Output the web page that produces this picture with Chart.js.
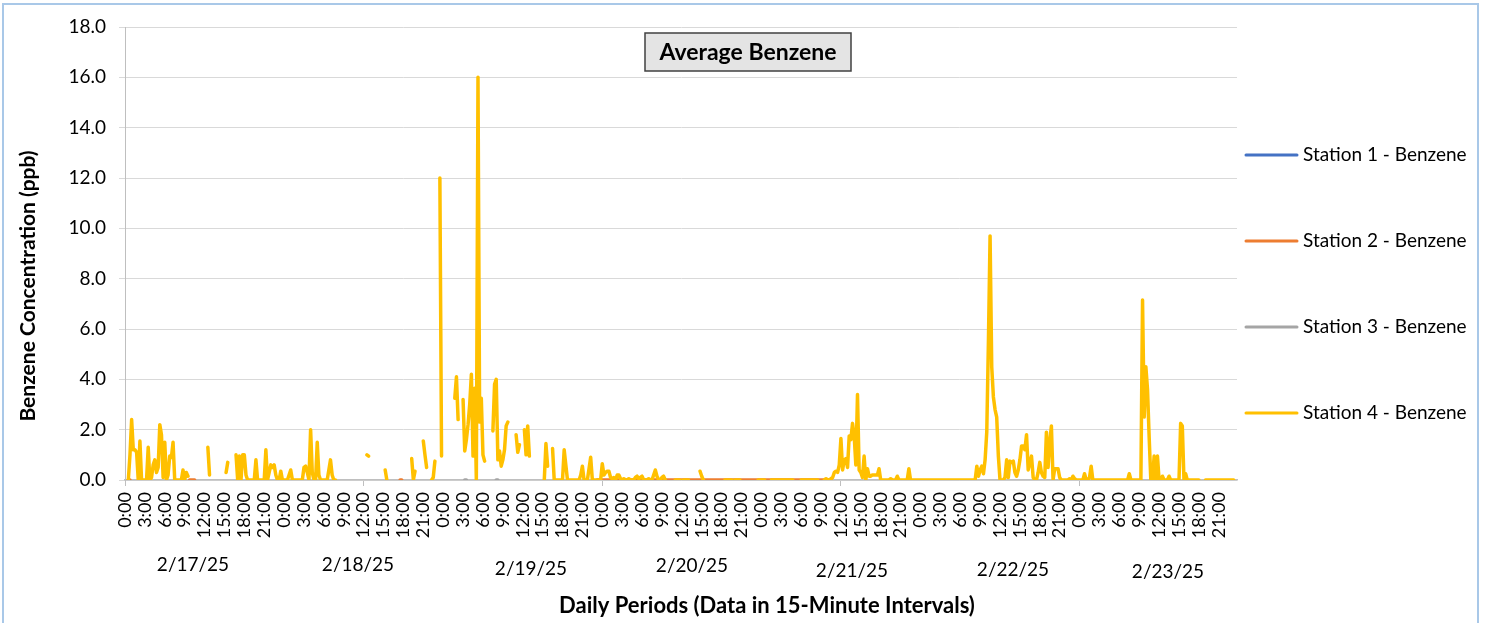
<!DOCTYPE html>
<html>
<head>
<meta charset="utf-8">
<title>Average Benzene</title>
<script src="https://cdn.jsdelivr.net/npm/chart.js@4.4.1/dist/chart.umd.min.js"></script>
<style>
  html, body { margin: 0; padding: 0; background: #fff; }
  #wrap { position: relative; width: 1486px; height: 623px; overflow: hidden; }
  #frame { position: absolute; left: 2px; top: 3px; width: 1477px; height: 700px; border: 2px solid #a9c8e8; box-sizing: border-box; pointer-events: none; }
  canvas { position: absolute; left: 0; top: 0; }
</style>
</head>
<body>
<div id="wrap">
  <canvas id="myChart" width="1486" height="623"></canvas>
  <div id="frame"></div>
</div>
<script>
// days on the axis, and which times get a label (every 3 hours)
const days = ['2/17/25', '2/18/25', '2/19/25', '2/20/25', '2/21/25', '2/22/25', '2/23/25'];
const tickTimes = ['0:00', '3:00', '6:00', '9:00', '12:00', '15:00', '18:00', '21:00'];

const seriesNames = ['Station 1 - Benzene', 'Station 2 - Benzene', 'Station 3 - Benzene', 'Station 4 - Benzene'];

// Station 4 readings, 15 min each, one row = 3 hours (null = no reading)
const st4_0217 = [
  null, null, 0, 1.0, 2.4, 1.2, 1.2, 1.1, 0, 1.55, 0, 0,
  0, 0, 1.3, 0, 0.1, 0.6, 0.8, 0.3, 0.5, 2.2, 1.8, 0.1,
  1.5, 0, 0.2, 0.95, 0.9, 1.5, 0, 0, 0, 0, 0, 0.4,
  0, 0.3, 0.15, null, null, null, null, null, null, null, null, null,
  null, null, 1.3, 0.2, null, null, null, null, null, null, null, null,
  null, 0.3, 0.7, null, null, null, null, 1.0, 0, 0.95, 0, 1.0,
  1.0, 0.2, 0, 0, 0, 0, 0, 0.8, 0, 0, 0, 0,
  0, 1.2, 0, 0.3, 0.6, 0.5, 0.6, 0.2, 0, 0, 0.35, 0
];
const st4_0218 = [
  0, 0, 0, 0.2, 0.4, 0, 0, 0, 0, 0, 0, 0,
  0.5, 0.55, 0.3, 0, 2.0, 0.3, 0, 0, 1.5, 0.2, 0, 0,
  0, 0, 0, 0.4, 0.8, 0.2, 0, 0, null, null, null, null,
  null, null, null, null, null, null, null, null, null, null, null, null,
  null, null, 1.0, 0.95, null, null, null, null, null, null, null, null,
  null, 0.4, 0, null, null, null, null, null, null, null, null, null,
  null, null, null, null, null, 0.85, 0, 0.35, null, null, null, null,
  1.55, 1.0, 0.5, null, null, 0, 0.1, 0.75, null, null, 12.0, 0.95
];
const st4_0219 = [
  null, null, null, null, null, null, null, 3.25, 4.1, 2.4, null, null,
  3.2, 1.15, 1.6, 2.2, 3.0, 4.2, 0.95, 3.65, 0, 16.0, 2.3, 3.25,
  1.0, 0.75, null, null, null, null, 1.95, 3.8, 4.0, 0.8, 1.15, 0.55,
  0.8, 1.2, 2.15, 2.3, null, null, null, null, 1.8, 1.1, 1.4, null,
  null, 2.0, 1.0, 2.15, 0.95, null, null, null, null, null, null, null,
  null, 0, 1.45, 0.55, null, null, 1.25, 0, 0, 0, 0, 0,
  0, 1.2, 0.6, 0, 0, 0, 0, 0, 0, 0, 0, 0.2,
  0.55, 0, 0, 0, 0.45, 0.9, 0, 0, 0, 0, 0, 0
];
const st4_0220 = [
  0.65, 0.2, 0.3, 0.35, 0.35, 0.1, 0.05, 0.1, 0, 0.2, 0.2, 0.05,
  0, 0.05, 0, 0, 0.05, 0, 0, 0, 0.1, 0.15, 0.05, 0.1,
  0.15, 0, 0, 0, 0.05, 0, 0, 0.2, 0.4, 0.15, 0, 0,
  0.1, 0.15, 0, null, null, null, null, null, 0, 0, 0, 0,
  null, 0, 0, 0, 0, null, null, null, null, null, null, 0.35,
  0.15, 0, null, null, null, null, null, null, null, null, null, null,
  null, null, 0, 0, 0, 0, 0, null, 0, 0, 0, 0,
  null, null, null, null, null, null, null, null, null, null, 0, 0
];
const st4_0221 = [
  0, 0, 0, null, null, null, 0, 0, 0, 0, 0, 0,
  0, 0, 0, 0, 0, 0, 0, 0, null, null, null, null,
  0, 0, 0, 0, 0, 0, 0, 0, 0, 0, 0, null,
  null, null, 0, 0.05, 0, 0, 0.05, 0.1, 0.3, 0.35, 0.3, 0.6,
  1.65, 0.4, 0.8, 0.85, 0.5, 1.75, 1.6, 2.25, 1.75, 0.6, 3.4, 0.4,
  0.3, 0.1, 0.95, 0, 0.45, 0.15, 0.15, 0.2, 0.2, 0.2, 0.2, 0.45,
  0, 0, 0, 0, 0, 0, 0.05, 0, 0, 0, 0.15, 0,
  0, 0, 0, 0, 0, 0.45, 0, 0, 0, 0, 0, 0
];
const st4_0222 = [
  0, 0, 0, 0, 0, 0, 0, 0, 0, 0, 0, 0,
  0, 0, 0, 0, 0, 0, 0, 0, 0, 0, 0, 0,
  0, 0, 0, 0, 0, 0, 0, 0, 0, 0, 0.55, 0.15,
  0.4, 0.55, 0.25, 0.8, 1.9, 5.5, 9.7, 4.5, 3.3, 2.8, 2.5, 0.95,
  0, 0, 0, 0.1, 0.8, 0.1, 0.75, 0.7, 0.75, 0.3, 0.15, 0.4,
  0.8, 1.35, 1.35, 1.2, 1.8, 0.4, 0.7, 0.95, 0.1, 0, 0, 0.3,
  0.7, 0.3, 0.15, 0.1, 1.9, 0.5, 1.5, 2.15, 0, 0.45, 0.45, 0.45,
  0.1, 0, 0, 0, 0, 0, 0.05, 0, 0.15, 0.05, 0, 0
];
const st4_0223 = [
  0, 0, 0, 0.25, 0, 0, 0.1, 0.55, 0, 0, 0, 0,
  0, 0, 0, 0, 0, 0, 0, 0, 0, 0, 0, 0,
  0, 0, 0, 0, 0, 0, 0.25, 0, 0, 0, 0, 0,
  0, 0, 7.15, 2.5, 4.5, 3.6, 1.7, 0, 0, 0.95, 0, 0.95,
  0, 0, 0.15, 0, 0, 0, 0.15, 0, 0, 0, 0, 0,
  0, 2.25, 2.15, 0, 0.25, 0, 0, 0, 0, 0, 0, 0,
  0, null, null, null, 0, 0, 0, 0, 0, 0, 0, 0,
  0, 0, 0, 0, 0, 0, 0, 0, 0, 0, null, null
];
const station4 = [].concat(st4_0217, st4_0218, st4_0219, st4_0220, st4_0221, st4_0222, st4_0223);

// stations 1-3 only report a few zero readings, so keep them as points
const station1 = [];
const station2 = [
  { x: '2/17/25 0:30', y: 0 }, { x: '2/17/25 0:45', y: 0 }, { x: '2/17/25 1:00', y: null },
  { x: '2/17/25 9:45', y: 0 }, { x: '2/17/25 10:30', y: 0 }, { x: '2/17/25 10:45', y: null },
  { x: '2/18/25 17:30', y: 0 }, { x: '2/18/25 17:45', y: 0 }, { x: '2/18/25 18:00', y: null },
  { x: '2/19/25 23:15', y: 0 }, { x: '2/21/25 10:30', y: 0 }
];
const station3 = [
  { x: '2/19/25 3:15', y: 0 }, { x: '2/19/25 3:30', y: 0 }, { x: '2/19/25 3:45', y: null },
  { x: '2/19/25 8:00', y: 0 }, { x: '2/19/25 8:15', y: 0 }
];

const colors = ['#4472C4', '#ED7D31', '#A5A5A5', '#FFC000'];

// one category per 15 minutes
const labels = [];
days.forEach(function (day) {
  for (let q = 0; q < 96; q++) {
    const h = Math.floor(q / 4);
    const m = (q % 4) * 15;
    labels.push(day + ' ' + h + ':' + (m < 10 ? '0' + m : m));
  }
});

// where Excel put the date row (x, y)
const dateLabelPos = [[193, 565], [358, 565], [531, 569], [692, 566], [852, 571], [1013, 570], [1168, 572]];

Chart.defaults.font.family = 'Lato, "Open Sans", sans-serif';
Chart.defaults.color = '#000';

// title box, date row, axis titles and legend the way Excel lays them out
const excelExtras = {
  id: 'excelExtras',
  afterDraw(chart) {
    const ctx = chart.ctx;
    ctx.save();
    ctx.textBaseline = 'middle';

    // chart title in a grey box
    ctx.fillStyle = '#e4e4e4';
    ctx.fillRect(645, 33, 206, 38);
    ctx.strokeStyle = '#404040';
    ctx.lineWidth = 1.5;
    ctx.strokeRect(645, 33, 206, 38);
    ctx.fillStyle = '#000';
    ctx.textAlign = 'center';
    ctx.font = 'bold 23px Lato';
    ctx.fillText('Average Benzene', 748, 53);

    // date under each day's times
    ctx.font = '19px Lato';
    days.forEach(function (day, d) {
      ctx.fillText(day, dateLabelPos[d][0], dateLabelPos[d][1]);
    });

    // axis titles
    ctx.font = 'bold 22px Lato';
    ctx.fillText('Daily Periods (Data in 15-Minute Intervals)', 767, 606);
    ctx.save();
    ctx.translate(28, 286);
    ctx.rotate(-Math.PI / 2);
    ctx.font = 'bold 21px Lato';
    ctx.fillText('Benzene Concentration (ppb)', 0, 0);
    ctx.restore();

    // legend
    ctx.textAlign = 'left';
    ctx.font = '19px Lato';
    chart.data.datasets.forEach(function (ds, i) {
      const y = 155 + i * 86;
      ctx.strokeStyle = ds.borderColor;
      ctx.lineWidth = 3;
      ctx.lineCap = 'round';
      ctx.beginPath();
      ctx.moveTo(1246, y);
      ctx.lineTo(1297, y);
      ctx.stroke();
      ctx.fillText(ds.label, 1303, y);
    });
    ctx.restore();
  }
};

const ctx = document.getElementById('myChart').getContext('2d');
new Chart(ctx, {
  type: 'line',
  data: {
    labels: labels,
    datasets: [
      { label: seriesNames[0], data: station1, borderColor: colors[0], backgroundColor: colors[0], order: 4 },
      { label: seriesNames[1], data: station2, borderColor: colors[1], backgroundColor: colors[1], order: 3 },
      { label: seriesNames[2], data: station3, borderColor: colors[2], backgroundColor: colors[2], order: 2 },
      { label: seriesNames[3], data: station4, borderColor: colors[3], backgroundColor: colors[3], order: 1 }
    ]
  },
  options: {
    responsive: false,
    animation: false,
    devicePixelRatio: 1,
    spanGaps: false,
    layout: { padding: { top: 27, right: 249, bottom: 0, left: 0 } },
    elements: {
      point: { radius: 0, hoverRadius: 0 },
      line: { borderWidth: 3.5, tension: 0, borderCapStyle: 'round', borderJoinStyle: 'round' }
    },
    plugins: {
      legend: { display: false },
      title: { display: false },
      tooltip: { enabled: false }
    },
    scales: {
      x: {
        type: 'category',
        offset: false,
        grid: {
          drawOnChartArea: false,
          drawTicks: true,
          tickLength: 6,
          color: function (c) { return c.index % 12 === 0 ? '#bfbfbf' : 'rgba(0,0,0,0)'; }
        },
        border: { color: '#bfbfbf', width: 1.5 },
        ticks: {
          autoSkip: false,
          minRotation: 90,
          maxRotation: 90,
          padding: 6,
          font: { size: 18 },
          callback: function (value) {
            const time = this.getLabelForValue(value).split(' ')[1];
            return tickTimes.includes(time) ? time : null;
          }
        },
        afterFit: function (scale) { scale.height = 143; }
      },
      y: {
        min: 0,
        max: 18,
        grid: { color: '#d9d9d9', tickLength: 6 },
        border: { color: '#bfbfbf' },
        ticks: {
          stepSize: 2,
          padding: 13,
          font: { size: 19 },
          callback: function (v) { return v.toFixed(1); }
        },
        afterFit: function (scale) { scale.width = 125; }
      }
    }
  },
  plugins: [excelExtras]
});
</script>
</body>
</html>
